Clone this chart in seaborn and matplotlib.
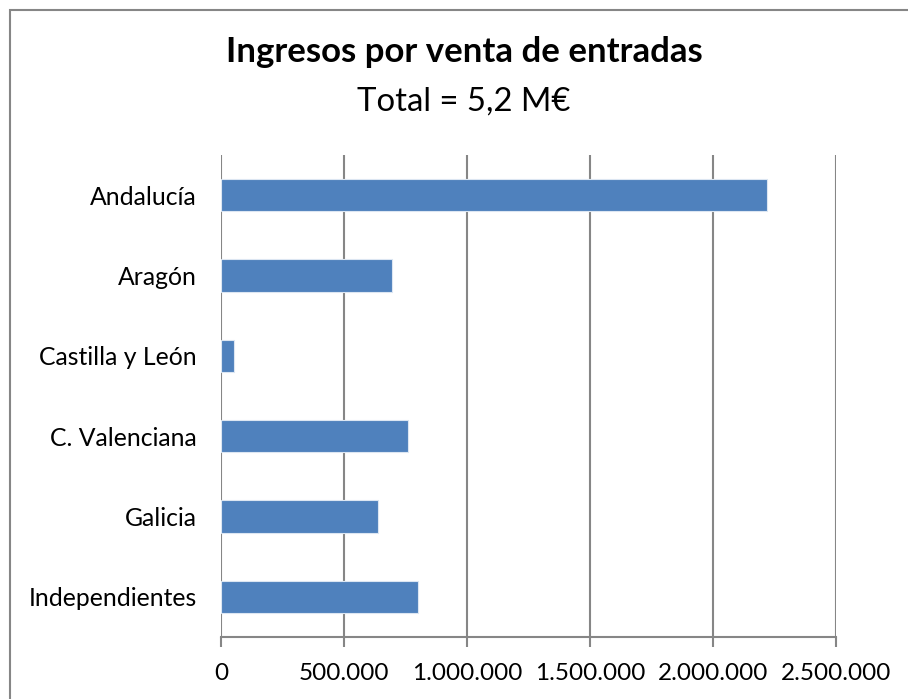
import matplotlib
matplotlib.use("Agg")
import matplotlib.pyplot as plt
import seaborn as sns
import pandas as pd
from matplotlib.ticker import FuncFormatter
from matplotlib.patches import Rectangle

regions = ["Andalucía", "Aragón", "Castilla y León", "C. Valenciana", "Galicia", "Independientes"]
ingresos = [2220000, 695000, 52000, 762000, 638000, 802000]
xticks = [0, 500000, 1000000, 1500000, 2000000, 2500000]
title = "Ingresos por venta de entradas"
subtitle = "Total = 5,2 M€"

sns.set_theme(style="white")
plt.rcParams['font.family'] = ['Lato', 'DejaVu Sans']
plt.rcParams['text.color'] = 'black'

df = pd.DataFrame({"region": regions, "ingresos": ingresos})

fig = plt.figure(figsize=(9.08, 6.99), dpi=100)
ax = fig.add_axes([221/908, 1 - 637/699, (836-221)/908, (637-155)/699])

sns.barplot(data=df, x="ingresos", y="region", orient="h", color="#4F81BD",
            width=0.4, edgecolor="#DCE6F2", linewidth=0.8, saturation=1, ax=ax, zorder=3)

ax.set_xlim(0, 2500000)
ax.set_ylim(5.5, -0.5)
ax.set_xticks(xticks)
ax.xaxis.set_major_formatter(FuncFormatter(lambda v, p: f"{int(v):,}".replace(",", ".")))
ax.grid(axis="x", color="#868686", linewidth=1.5, zorder=0)
ax.grid(axis="y", visible=False)
for s in ["top", "right", "left"]:
    ax.spines[s].set_visible(False)
ax.spines["bottom"].set_color("#868686")
ax.spines["bottom"].set_linewidth(1.5)
ax.tick_params(axis="x", bottom=True, length=7, width=1.5, color="#868686", pad=12,
               labelsize=17.5, labelcolor="black")
ax.tick_params(axis="y", left=False, pad=11.5, labelsize=17.8, labelcolor="black")
ax.set_xlabel("")
ax.set_ylabel("")

fig.text(464/908, 1 - 62/699, title, ha="center", va="baseline", fontsize=25,
         fontweight="bold", color="black")
fig.text(464/908, 1 - 111/699, subtitle, ha="center", va="baseline", fontsize=23.7,
         color="black")

fig.patches.append(Rectangle((9.5/908, -0.1), 1.1, 1.1 - 10.5/699, transform=fig.transFigure,
                             fill=False, edgecolor="#868686", linewidth=1.5))

fig.savefig("out.png", dpi=100)
